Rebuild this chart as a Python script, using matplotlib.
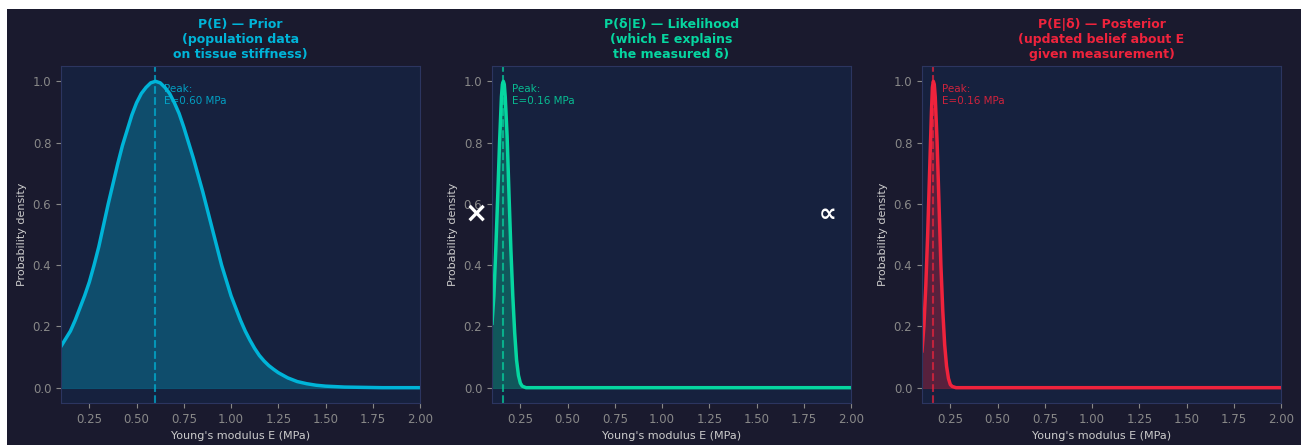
import matplotlib.pyplot as plt
from matplotlib.patches import Rectangle

# valeurs (normalisées au pic = 1)
E_prior = [0.100, 0.125, 0.150, 0.175, 0.200, 0.225, 0.250, 0.275, 0.300,
           0.325, 0.350, 0.375, 0.400, 0.425, 0.450, 0.475, 0.500, 0.525,
           0.550, 0.575, 0.600, 0.625, 0.650, 0.675, 0.700, 0.725, 0.750,
           0.775, 0.800, 0.825, 0.850, 0.875, 0.900, 0.925, 0.950, 0.975,
           1.000, 1.025, 1.050, 1.075, 1.100, 1.125, 1.150, 1.175, 1.200,
           1.225, 1.250, 1.300, 1.350, 1.400, 1.450, 1.500, 1.600, 1.700,
           1.800, 2.000]
prior = [0.135, 0.16, 0.185, 0.22, 0.26, 0.30, 0.345, 0.40, 0.46,
         0.53, 0.60, 0.665, 0.73, 0.79, 0.84, 0.89, 0.93, 0.96,
         0.98, 0.995, 1.00, 0.995, 0.98, 0.96, 0.93, 0.895, 0.85,
         0.80, 0.75, 0.695, 0.64, 0.58, 0.52, 0.46, 0.40, 0.35,
         0.30, 0.26, 0.22, 0.185, 0.155, 0.128, 0.105, 0.087, 0.072,
         0.06, 0.049, 0.032, 0.02, 0.013, 0.008, 0.005, 0.002, 0.001,
         0.0, 0.0]

E_like = [0.10, 0.11, 0.12, 0.13, 0.14, 0.15, 0.155, 0.16, 0.165, 0.17, 0.18,
          0.19, 0.20, 0.21, 0.22, 0.23, 0.24, 0.25, 0.26, 0.28, 0.30, 0.50,
          1.00, 1.50, 2.00]
likelihood = [0.21, 0.30, 0.45, 0.62, 0.80, 0.95, 0.99, 1.00, 0.99, 0.95, 0.82,
              0.63, 0.45, 0.30, 0.18, 0.09, 0.04, 0.015, 0.005, 0.0, 0.0, 0.0,
              0.0, 0.0, 0.0]

E_post = [0.10, 0.11, 0.12, 0.13, 0.14, 0.15, 0.155, 0.16, 0.165, 0.17, 0.18,
          0.19, 0.20, 0.21, 0.22, 0.23, 0.24, 0.25, 0.26, 0.28, 0.30, 0.50,
          1.00, 1.50, 2.00]
posterior = [0.12, 0.20, 0.33, 0.50, 0.70, 0.90, 0.98, 1.00, 0.99, 0.95, 0.80,
             0.60, 0.40, 0.25, 0.14, 0.07, 0.03, 0.01, 0.004, 0.0, 0.0, 0.0,
             0.0, 0.0, 0.0]

picos = [0.60, 0.16, 0.16]
titulos = ["P(E) — Prior\n(population data\non tissue stiffness)",
           "P(δ|E) — Likelihood\n(which E explains\nthe measured δ)",
           "P(E|δ) — Posterior\n(updated belief about E\ngiven measurement)"]
cores = ["#00b4d8", "#06d6a0", "#ef233c"]

fundo = "#1a1a2e"
fundo_ax = "#16213e"

fig = plt.figure(figsize=(13.06, 4.45), dpi=100, facecolor="white")
fig.patches.append(Rectangle((7 / 1306, 0), 1294 / 1306, 436 / 445,
                             transform=fig.transFigure, facecolor=fundo,
                             edgecolor="none", zorder=-10))

lefts = [61 / 1306, 492 / 1306, 922 / 1306]
series = [(E_prior, prior), (E_like, likelihood), (E_post, posterior)]

for i in range(3):
    ax = fig.add_axes([lefts[i], 42 / 445, 359 / 1306, 337 / 445])
    ax.set_facecolor(fundo_ax)
    x, y = series[i]
    c = cores[i]
    ax.fill_between(x, y, 0, color=c, alpha=0.3, linewidth=0)
    ax.plot(x, y, color=c, lw=2.5)
    ax.axhline(0, color=c, lw=0.8, alpha=0.3)
    ax.axvline(picos[i], color=c, ls="--", lw=1.5, alpha=0.7)
    ax.text(picos[i] + 0.045, 0.99, f"Peak:\nE={picos[i]:.2f} MPa",
            color=c, fontsize=7.5, alpha=0.85, va="top", ha="left")
    ax.set_xlim(0.1, 2.0)
    ax.set_ylim(-0.05, 1.05)
    ax.set_xticks([0.25, 0.5, 0.75, 1.0, 1.25, 1.5, 1.75, 2.0])
    ax.set_yticks([0.0, 0.2, 0.4, 0.6, 0.8, 1.0])
    ax.tick_params(colors="#888888", labelsize=8.5)
    for s in ax.spines.values():
        s.set_color("#2c3560")
    ax.set_xlabel("Young's modulus E (MPa)", color="#cccccc", fontsize=8)
    ax.set_ylabel("Probability density", color="#cccccc", fontsize=8)
    ax.set_title(titulos[i], color=c, fontsize=9, fontweight="bold")

fig.text(476 / 1306, 231 / 445, "×", color="white", fontsize=20,
         fontweight="bold", ha="center", va="center")
fig.text(828 / 1306, 231 / 445, "∝", color="white", fontsize=18,
         fontweight="bold", ha="center", va="center")

plt.savefig("out.png", dpi=100, facecolor=fig.get_facecolor())
